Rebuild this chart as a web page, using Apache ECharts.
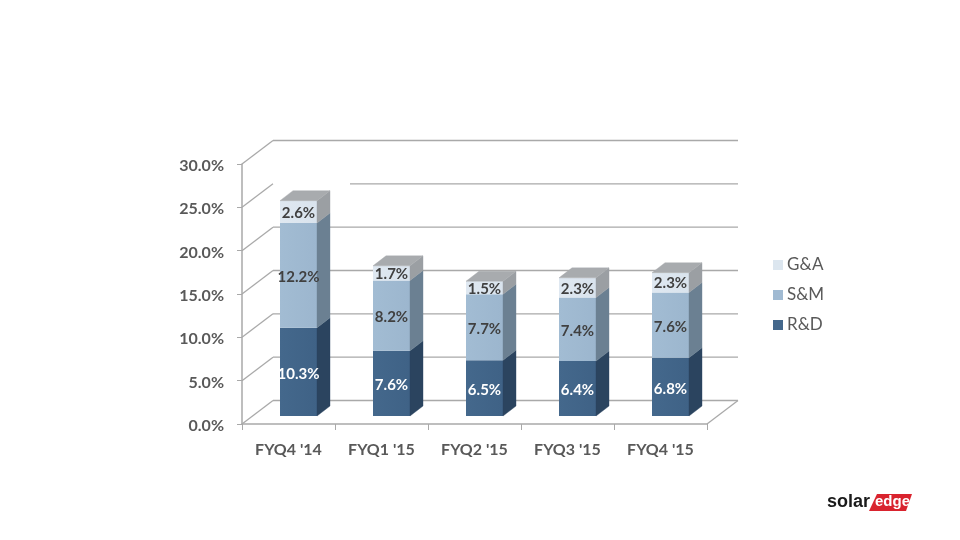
<!DOCTYPE html>
<html><head><meta charset="utf-8">
<style>html,body{margin:0;padding:0;background:#fff}#c{width:960px;height:540px}</style>
<script src="https://cdn.jsdelivr.net/npm/echarts@6/dist/echarts.min.js"></script>
</head><body><div id="c"></div>
<script>
const categories = ["FYQ4 '14","FYQ1 '15","FYQ2 '15","FYQ3 '15","FYQ4 '15"];
const rd = [10.3,7.6,6.5,6.4,6.8];
const sm = [12.2,8.2,7.7,7.4,7.6];
const ga = [2.6,1.7,1.5,2.3,2.3];
const wallTicks = [0,5,10,15,20,25,30];

const FONT = 'Lato';
const GRID_GRAY = '#a9a9a9';
const WALL_DX = 31, WALL_DY = -23.5;
const BAR_W = 37, BAR_DX = 13, BAR_DY = -10, BAR_OFF_X = 10, BAR_OFF_Y = -8, BAR_SCALE = 0.99;

function poly(points, fill){
  return {type:'polygon', shape:{points}, style:{fill, stroke:fill, lineWidth:0.4}};
}
function barRenderer(colors, labelColor, withCap){
  return function(params, api){
    const i = api.value(0), lo = api.value(1), hi = api.value(2);
    const zero = api.coord([i, 0]);
    const a = api.coord([i, lo]), b = api.coord([i, hi]);
    const cx = a[0] + BAR_OFF_X, x0 = cx - BAR_W/2, x1 = cx + BAR_W/2;
    const y0 = zero[1] + BAR_OFF_Y - (zero[1]-a[1])*BAR_SCALE;
    const y1 = zero[1] + BAR_OFF_Y - (zero[1]-b[1])*BAR_SCALE;
    const children = [
      {type:'rect', shape:{x:x0,y:y1,width:BAR_W,height:y0-y1},
       style:{fill:{type:'linear',x:0,y:0,x2:1,y2:0,colorStops:[{offset:0,color:colors.front},{offset:1,color:colors.front2}]}}},
      poly([[x1,y0],[x1+BAR_DX,y0+BAR_DY],[x1+BAR_DX,y1+BAR_DY],[x1,y1]], colors.side)
    ];
    if(withCap){
      children.push(poly([[x0,y1],[x1,y1],[x1+BAR_DX,y1+BAR_DY],[x0+BAR_DX,y1+BAR_DY]], '#a8abae'));
    }
    children.push({type:'text', z2:10, style:{
      text:(hi-lo).toFixed(1)+'%', x:cx, y:(y0+y1)/2+(withCap?1:2), align:'center', verticalAlign:'middle',
      fill:labelColor, font:'bold 15px '+FONT
    }});
    return {type:'group', children};
  };
}
const stacked = (vals, bases) => vals.map((v,i)=>[i, bases[i], +(bases[i]+v).toFixed(1)]);
const smBase = rd;
const gaBase = rd.map((v,i)=>v+sm[i]);

const option = {
  animation:false,
  backgroundColor:'#fff',
  textStyle:{fontFamily:FONT},
  grid:{left:242, top:164, width:465, height:260},
  legend:{
    data:['G&A','S&M','R&D'], orient:'vertical', left:768, top:250,
    itemWidth:10, itemHeight:10, itemGap:10, selectedMode:false,
    icon:'rect',
    textStyle:{fontFamily:FONT, fontSize:17, color:'#595959', padding:[0,0,0,-1], lineHeight:20}
  },
  xAxis:{
    type:'category', data:categories,
    axisLine:{lineStyle:{color:GRID_GRAY,width:1.5}},
    axisTick:{show:true,length:6,lineStyle:{color:GRID_GRAY,width:1}},
    axisLabel:{fontFamily:FONT,fontWeight:'bold',fontSize:16,color:'#595959',margin:18}
  },
  yAxis:{
    type:'value', min:0, max:30, interval:5,
    axisLine:{show:true,lineStyle:{color:GRID_GRAY,width:1.5}},
    axisTick:{show:true,length:5,lineStyle:{color:GRID_GRAY,width:1}},
    splitLine:{show:false},
    axisLabel:{fontFamily:FONT,fontWeight:'bold',fontSize:16,color:'#595959',margin:18,
      verticalAlign:'top',lineHeight:4,
      formatter:v=>v.toFixed(1)+'%'}
  },
  series:[
    {
      name:'wall', type:'custom', z:1, silent:true, clip:false,
      encode:{x:0,y:1},
      data:wallTicks.map(v=>[0,v]),
      renderItem(params, api){
        const v = api.value(1);
        const band = api.size([1,0])[0];
        const l = api.coord([0,v])[0]-band/2, r = api.coord([categories.length-1,v])[0]+band/2, y = api.coord([0,v])[1];
        const st = {stroke:GRID_GRAY, lineWidth:1.3, fill:'none'};
        const start = v===25 ? l+WALL_DX+77 : l+WALL_DX;
        const ch = [
          {type:'line',shape:{x1:l,y1:y,x2:l+WALL_DX,y2:y+WALL_DY},style:st},
          {type:'line',shape:{x1:start,y1:y+WALL_DY,x2:r+WALL_DX,y2:y+WALL_DY},style:st}
        ];
        if(v===0) ch.push({type:'line',shape:{x1:r,y1:y,x2:r+WALL_DX,y2:y+WALL_DY},style:st});
        return {type:'group',children:ch};
      }
    },
    {name:'R&D', type:'custom', z:2, clip:false, encode:{x:0,y:[1,2]},
     itemStyle:{color:'#44688c'}, data:stacked(rd, rd.map(()=>0)),
     renderItem:barRenderer({front:'#44688c',front2:'#3f6286',side:'#2b445f'},'#ffffff',false)},
    {name:'S&M', type:'custom', z:2, clip:false, encode:{x:0,y:[1,2]},
     itemStyle:{color:'#a0bad2'}, data:stacked(sm, smBase),
     renderItem:barRenderer({front:'#a2bcd3',front2:'#9cb6ce',side:'#6b8092'},'#404040',false)},
    {name:'G&A', type:'custom', z:2, clip:false, encode:{x:0,y:[1,2]},
     itemStyle:{color:'#dce6ef'}, data:stacked(ga, gaBase),
     renderItem:barRenderer({front:'#dfe8f1',front2:'#d9e3ed',side:'#9b9fa3'},'#404040',true)}
  ],
  graphic:[
    {type:'polygon',shape:{points:[[877,494],[912,494],[906,511],[869,511]]},style:{fill:'#d9232e'}},
    {type:'text',left:827,top:493,style:{text:'solar',font:'bold 18px "Liberation Sans"',fill:'#1a1a1a'}},
    {type:'text',left:875,top:494,style:{text:'edge',font:'bold 15px "Liberation Sans"',fill:'#ffffff'}}
  ]
};
const chart = echarts.init(document.getElementById('c'),null,{renderer:'canvas'});
chart.setOption(option);
</script></body></html>
